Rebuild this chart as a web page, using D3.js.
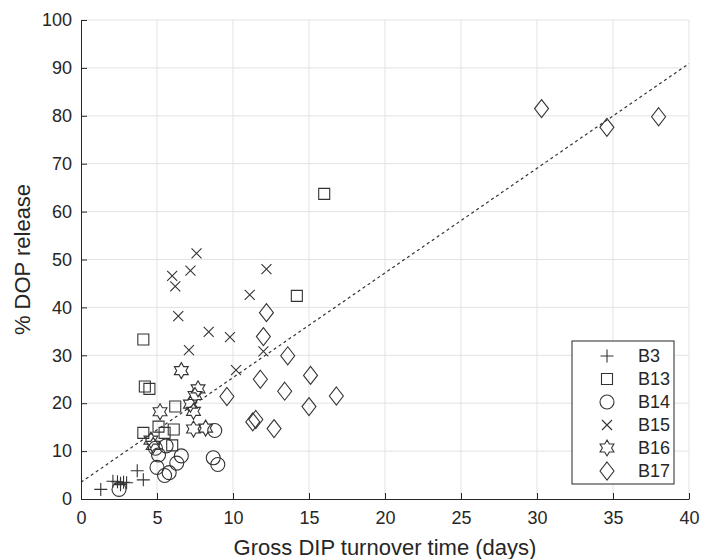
<!DOCTYPE HTML>
<html lang="en">
<head>
<meta charset="utf-8" />
<title>DOP release vs DIP turnover</title>
<style>
  body { margin: 0; background: #fff; }
  text { font-family: "Liberation Sans", Arial, sans-serif; fill: #262626; }
</style>
</head>
<body>
<script src="https://d3js.org/d3.v7.min.js"></script>
<script type="text/javascript">

const width = 703;
const height = 559;
const margin = {top: 20, right: 14, bottom: 60, left: 81};

// data: [turnover time (days), % DOP release]
const b3 = [[1.3, 2.0], [2.1, 3.7], [2.4, 3.6], [2.6, 3.3], [2.8, 3.5], [3.0, 3.4], [2.6, 3.0], [3.7, 5.9], [4.1, 4.0]];
const b13 = [[16.0, 63.7], [14.2, 42.4], [4.1, 33.3], [4.2, 23.5], [4.5, 23.0], [6.2, 19.3], [4.1, 13.8],
             [5.1, 15.1], [5.5, 13.8], [6.1, 14.5], [6.0, 11.2]];
const b14 = [[8.8, 14.3], [5.6, 11.1], [4.9, 10.6], [5.1, 9.2], [6.6, 9.0], [8.7, 8.6], [9.0, 7.2],
             [6.3, 7.5], [5.0, 6.6], [5.8, 5.5], [5.5, 4.9], [2.5, 2.0]];
const b15 = [[7.6, 51.3], [6.0, 46.6], [7.2, 47.7], [6.2, 44.4], [12.2, 48.0], [11.1, 42.6], [6.4, 38.2],
             [8.4, 34.9], [9.8, 33.8], [7.1, 31.1], [12.0, 30.8], [10.2, 26.9]];
const b16 = [[6.6, 26.8], [7.7, 23.0], [7.5, 21.6], [7.2, 19.8], [7.4, 18.3], [5.2, 18.2], [7.4, 14.6],
             [8.2, 14.8], [4.6, 12.3], [4.75, 11.2]];
const b17 = [[30.3, 81.5], [34.6, 77.6], [38.0, 79.8], [12.2, 38.9], [12.0, 33.9], [13.6, 29.9], [11.8, 25.0],
             [15.1, 25.8], [9.6, 21.4], [13.4, 22.5], [16.8, 21.5], [15.0, 19.3], [11.3, 16.1], [11.5, 16.6], [12.7, 14.7]];

const fitX = [0, 40];
const fitY = [3.5, 90.9];

const xTicks = [0, 5, 10, 15, 20, 25, 30, 35, 40];
const yTicks = [0, 10, 20, 30, 40, 50, 60, 70, 80, 90, 100];

const seriesNames = ["B3", "B13", "B14", "B15", "B16", "B17"];
const seriesData = [b3, b13, b14, b15, b16, b17];

// marker shapes, centred on 0,0
function hexagram(R) {
  const r = R / Math.sqrt(3);
  let pts = [];
  for (let i = 0; i < 12; i++) {
    const a = -Math.PI / 2 + i * Math.PI / 6;
    const rr = i % 2 === 0 ? R : r;
    pts.push([rr * Math.cos(a), rr * Math.sin(a)]);
  }
  return "M" + pts.map(p => p[0].toFixed(2) + "," + p[1].toFixed(2)).join("L") + "Z";
}
const markers = {
  "B3": "M-6.5,0H6.5M0,-6.5V6.5",
  "B13": "M-5.5,-5.5H5.5V5.5H-5.5Z",
  "B14": "M-7,0A7,7 0 1,0 7,0A7,7 0 1,0 -7,0Z",
  "B15": "M-5,-5L5,5M-5,5L5,-5",
  "B16": hexagram(8),
  "B17": "M0,-9L7,0L0,9L-7,0Z"
};

const svg = d3.select("body")
  .append("svg")
  .attr("width", width)
  .attr("height", height);

const xScale = d3.scaleLinear()
  .domain([0, 40])
  .range([margin.left, width - margin.right]);

const yScale = d3.scaleLinear()
  .domain([0, 100])
  .range([height - margin.bottom, margin.top]);

// grid
svg.append("g")
  .selectAll("line")
  .data(xTicks.slice(1))
  .enter()
  .append("line")
  .attr("x1", d => xScale(d)).attr("x2", d => xScale(d))
  .attr("y1", yScale(0)).attr("y2", yScale(100))
  .attr("stroke", "#e3e3e3").attr("stroke-width", 1);

svg.append("g")
  .selectAll("line")
  .data(yTicks.slice(1))
  .enter()
  .append("line")
  .attr("x1", xScale(0)).attr("x2", xScale(40))
  .attr("y1", d => yScale(d)).attr("y2", d => yScale(d))
  .attr("stroke", "#e3e3e3").attr("stroke-width", 1);

// fit line
svg.append("line")
  .attr("x1", xScale(fitX[0])).attr("y1", yScale(fitY[0]))
  .attr("x2", xScale(fitX[1])).attr("y2", yScale(fitY[1]))
  .attr("stroke", "#333").attr("stroke-width", 1.2)
  .attr("stroke-dasharray", "3,3");

// axes
const bottomAxis = d3.axisBottom(xScale).tickValues(xTicks).tickSizeInner(-6).tickSizeOuter(0).tickPadding(12);
const leftAxis = d3.axisLeft(yScale).tickValues(yTicks).tickSizeInner(-6).tickSizeOuter(0).tickPadding(9);

const gx = svg.append("g")
  .attr("transform", "translate(0," + yScale(0) + ")")
  .call(bottomAxis);
const gy = svg.append("g")
  .attr("transform", "translate(" + xScale(0) + ",0)")
  .call(leftAxis);

[gx, gy].forEach(g => {
  g.select(".domain").attr("stroke", "#262626").attr("stroke-width", 1);
  g.selectAll(".tick line").attr("stroke", "#262626");
  g.selectAll(".tick text").style("font-size", "18px").attr("fill", "#262626");
});

// points
seriesData.forEach((data, i) => {
  const name = seriesNames[i];
  svg.append("g")
    .selectAll("path")
    .data(data)
    .enter()
    .append("path")
    .attr("transform", d => "translate(" + xScale(d[0]) + "," + yScale(d[1]) + ")")
    .attr("d", markers[name])
    .attr("fill", "none")
    .attr("stroke", "#333")
    .attr("stroke-width", 1.1);
});

// axis labels
svg.append("text")
  .attr("x", (xScale(0) + xScale(40)) / 2)
  .attr("y", height - 4)
  .attr("text-anchor", "middle")
  .style("font-size", "22px")
  .text("Gross DIP turnover time (days)");

svg.append("text")
  .attr("transform", "translate(30," + (yScale(50)) + ") rotate(-90)")
  .attr("text-anchor", "middle")
  .style("font-size", "22px")
  .text("% DOP release");

// legend
const legend = svg.append("g").attr("transform", "translate(572,341)");
legend.append("rect")
  .attr("width", 102).attr("height", 143)
  .attr("fill", "#fff").attr("stroke", "#262626").attr("stroke-width", 1);

const entries = legend.selectAll("g")
  .data(seriesNames)
  .enter()
  .append("g")
  .attr("transform", (d, i) => "translate(0," + (15 + i * 23) + ")");

entries.append("path")
  .attr("transform", "translate(35,0)")
  .attr("d", d => markers[d])
  .attr("fill", "none")
  .attr("stroke", "#333")
  .attr("stroke-width", 1.1);

entries.append("text")
  .attr("x", 66)
  .attr("dy", "0.35em")
  .style("font-size", "18px")
  .text(d => d);

</script>
</body>
</html>
